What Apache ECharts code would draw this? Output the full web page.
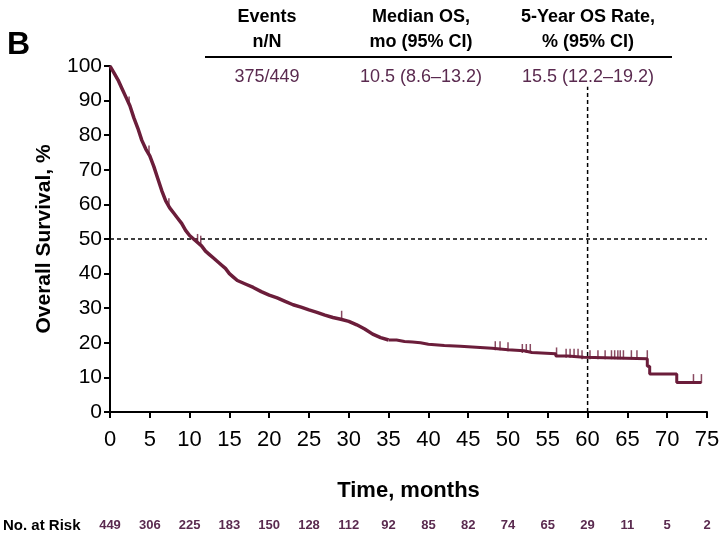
<!DOCTYPE html>
<html><head><meta charset="utf-8">
<script src="https://cdn.jsdelivr.net/npm/echarts@6/dist/echarts.min.js"></script>
<style>html,body{margin:0;padding:0;background:#fff}#c{width:721px;height:540px}</style>
</head><body><div id="c"></div>
<script>
// Kaplan-Meier overall survival (time in months, survival %)
// dense-event phase (many small steps, drawn as a continuous jagged curve)
const earlyTime = [0,0.5,1,1.5,2,2.5,3,3.5,4,4.5,5,5.5,6,6.5,7,7.5,8,8.5,9,9.5,10,10.5,11,11.5,12,12.5,13,13.5,14,14.5,15,15.5,16,17,18,19,20,21,22,23,24,25,26,27,28,29,30,31,32,33,34,35];
const earlySurv = [100,98,96,93.5,91,88.5,85,82,78.5,76,74,71,67.5,64,61,59,57.5,56,54.5,52.5,51,50,49,48,46.5,45.5,44.5,43.5,42.5,41.5,40,39,38,37,36,34.8,33.8,33,32,31,30.3,29.5,28.8,28,27.3,26.8,26.2,25.2,24,22.5,21.5,20.8];
// sparse-event phase (visible steps)
const lateTime = [35,36,37,38,39,40,42,44,46,48,50,52,53,56,57.5,59.5,67.5,67.8,71.2,74.3];
const lateSurv = [20.8,20.4,20.2,20,19.6,19.2,19,18.7,18.4,18,17.7,17.2,16.8,16.2,15.8,15.4,13.2,11,8.5,8.5];
// censoring marks
const censorTime = [2.4,4.9,7.4,11.0,11.4,29.1,48.4,49.0,50.0,51.8,52.3,52.8,56.1,57.3,57.8,58.3,58.8,59.3,60.3,61.3,62.2,63.0,63.4,63.8,64.1,64.5,65.5,66.2,67.5,73.3,74.3];
const censorSurv = [88.7,74.6,59.3,49,48.5,26.8,18,18,17.7,17.2,17.2,17.2,16.2,15.8,15.8,15.8,15.8,15.4,15.4,15.4,15.4,15.4,15.4,15.4,15.4,15.4,15.4,15.4,15.4,8.5,8.5];
// reference lines
const medianLine = [[0,50],[75,50]];
const fiveYearLine = [[60,0],[60,94]];
// axes
const xTicks = [0,5,10,15,20,25,30,35,40,45,50,55,60,65,70,75];
const atRisk = [449,306,225,183,150,128,112,92,85,82,74,65,29,11,5,2];
// summary table
const tableHeads = [["Events","n/N"],["Median OS,","mo (95% CI)"],["5-Year OS Rate,","% (95% CI)"]];
const tableValues = ["375/449","10.5 (8.6\u201313.2)","15.5 (12.2\u201319.2)"];
const tableX = [267,421,588];

const FONT = "'Liberation Sans Narrow','Arial Narrow','Liberation Sans',Arial,sans-serif";
const CURVE = '#6b1d3a';
const NUM = '#5a2a4f';

const chart = echarts.init(document.getElementById('c'), null, {renderer:'canvas'});
const early = earlyTime.map((t,i)=>[t,earlySurv[i]]);
const late = lateTime.map((t,i)=>[t,lateSurv[i]]);
const cens = censorTime.map((t,i)=>[t,censorSurv[i]]);

const graphics = [
  {type:'text', left:7, top:29, style:{text:'B', font:"bold 32px 'Liberation Sans',Arial", fill:'#000'}},
  {type:'line', shape:{x1:205,y1:57,x2:672,y2:57}, style:{stroke:'#000', lineWidth:2}},
  {type:'text', x:3, y:526, style:{text:'No. at Risk', font:"bold 15px "+FONT, fill:'#000', verticalAlign:'middle'}}
];
tableHeads.forEach((h,i)=>{
  graphics.push({type:'text', x:tableX[i], y:17, style:{text:h[0], font:"bold 18px "+FONT, fill:'#000', align:'center', verticalAlign:'middle'}});
  graphics.push({type:'text', x:tableX[i], y:42, style:{text:h[1], font:"bold 18px "+FONT, fill:'#000', align:'center', verticalAlign:'middle'}});
  graphics.push({type:'text', x:tableX[i], y:77, style:{text:tableValues[i], font:"18px "+FONT, fill:NUM, align:'center', verticalAlign:'middle'}});
});

chart.setOption({
  animation:false,
  backgroundColor:'#fff',
  grid:{left:110, right:14, top:66, bottom:128, outerBoundsMode:'none', containLabel:false},
  xAxis:[{
    type:'value', min:0, max:75, interval:5,
    name:'Time, months', nameLocation:'middle', nameGap:68,
    nameTextStyle:{fontFamily:FONT, fontWeight:'bold', fontSize:22, color:'#000'},
    axisLine:{lineStyle:{color:'#000', width:2}},
    axisTick:{show:true, length:6, lineStyle:{color:'#000', width:2}},
    axisLabel:{fontFamily:FONT, fontSize:22, color:'#000', margin:17},
    splitLine:{show:false}
  },{
    type:'value', min:0, max:75, interval:5, position:'bottom', offset:107,
    axisLine:{show:false}, axisTick:{show:false}, splitLine:{show:false},
    axisLabel:{fontFamily:FONT, fontSize:13, fontWeight:'bold', color:NUM, margin:0,
      formatter:v=>{const i=xTicks.indexOf(v); return i>=0?String(atRisk[i]):'';}}
  }],
  yAxis:{
    type:'value', min:0, max:100, interval:10,
    name:'Overall Survival, %', nameLocation:'middle', nameGap:55, nameRotate:90,
    nameTextStyle:{fontFamily:FONT, fontWeight:'bold', fontSize:21, color:'#000'},
    axisLine:{show:true, lineStyle:{color:'#000', width:2}},
    axisTick:{show:true, length:6, lineStyle:{color:'#000', width:2}},
    axisLabel:{fontFamily:FONT, fontSize:21, color:'#000', margin:8},
    splitLine:{show:false}
  },
  graphic:graphics,
  series:[
    {type:'line', data:medianLine, symbol:'none', silent:true,
     lineStyle:{color:'#000', width:1.5, type:[4,3]}, z:1},
    {type:'line', data:fiveYearLine, symbol:'none', silent:true,
     lineStyle:{color:'#000', width:1.5, type:[4,3]}, z:1},
    {type:'line', data:early, symbol:'none',
     lineStyle:{color:CURVE, width:3.5, join:'round'}, z:3},
    {type:'line', data:late, step:'end', symbol:'none',
     lineStyle:{color:CURVE, width:3}, z:3},
    {type:'scatter', data:cens, symbol:'rect', symbolSize:[1.5,9], symbolOffset:[0,-4],
     itemStyle:{color:CURVE}, z:4}
  ]
});
</script></body></html>
